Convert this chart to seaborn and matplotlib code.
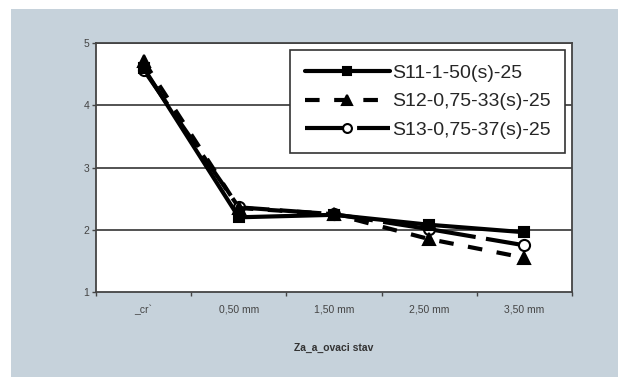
import matplotlib
matplotlib.use("Agg")
import matplotlib.pyplot as plt
from matplotlib.patches import Rectangle
import numpy as np
import pandas as pd
import seaborn as sns

# Category labels on the x axis and measured values per specimen
categories = ["_cr`", "0,50 mm", "1,50 mm", "2,50 mm", "3,50 mm"]
s11 = [4.60, 2.20, 2.24, 2.08, 1.96]
s12 = [4.71, 2.35, 2.25, 1.85, 1.55]
s13 = [4.57, 2.36, 2.25, 2.01, 1.75]
series_names = ["S11-1-50(s)-25", "S12-0,75-33(s)-25", "S13-0,75-37(s)-25"]
x_label = "Za_a_ovaci stav"
y_ticks = [1, 2, 3, 4, 5]

sns.set_style("white")
plt.rcParams["font.family"] = ["Liberation Sans", "DejaVu Sans"]

fig = plt.figure(figsize=(6.18, 3.77), dpi=100)
fig.patch.set_facecolor("white")
fig.patches.append(Rectangle((11 / 618, 0), 1, 1 - 9 / 377, transform=fig.transFigure,
                             facecolor="#c6d2db", edgecolor="none", zorder=-10))

ax = fig.add_axes([96 / 618, 1 - 292 / 377, (572 - 96) / 618, (292 - 43) / 377])
ax.set_facecolor("white")

pos = np.arange(len(categories))
df = pd.DataFrame({"pos": pos, "s11": s11, "s12": s12, "s13": s13})

styles = [
    dict(col="s13", marker="o", ms=8, mfc="white", ls=(0, (10, 2.5))),
    dict(col="s12", marker="^", ms=9, mfc="black", ls=(0, (3.5, 3.5))),
    dict(col="s11", marker="s", ms=7, mfc="black", ls="-"),
]
name_of = dict(zip(["s11", "s12", "s13"], series_names))
for st in styles:
    sns.lineplot(data=df, x="pos", y=st["col"], ax=ax, color="black", lw=3,
                 linestyle=st["ls"], marker=st["marker"], markersize=st["ms"],
                 markerfacecolor=st["mfc"], markeredgecolor="black",
                 markeredgewidth=1.5, label=name_of[st["col"]], zorder=3)

ax.set_xlim(-0.5, len(categories) - 0.5)
ax.set_ylim(1, 5)
ax.set_yticks(y_ticks)
ax.set_yticklabels([str(v) for v in y_ticks])
ax.set_xticks(pos)
ax.set_xticklabels(categories)
ax.set_xticks(np.arange(-0.5, len(categories), 1.0), minor=True)
ax.tick_params(axis="x", which="major", length=0, pad=9, labelsize=7.5, labelcolor="#444444")
ax.tick_params(axis="x", which="minor", length=3, width=1, color="#444444", direction="out", bottom=True)
ax.tick_params(axis="y", length=3, width=1, color="#444444", pad=2, labelsize=7.5,
               labelcolor="#444444", direction="out", left=True)

for v in y_ticks[1:]:
    ax.axhline(v, color="#444444", lw=1.3, zorder=1)
for side in ["left", "bottom", "right", "top"]:
    ax.spines[side].set_color("#444444")
    ax.spines[side].set_linewidth(1.3)

ax.set_xlabel(x_label, fontsize=7.5, fontweight="bold", color="#333333", labelpad=20)
ax.set_ylabel("")

handles, labels = ax.get_legend_handles_labels()
order = [labels.index(n) for n in series_names]
leg = ax.legend([handles[i] for i in order], [labels[i] for i in order],
                loc="upper left", bbox_to_anchor=((290 - 96) / 476, 1 - 7 / 249),
                frameon=True, fancybox=False, shadow=False, fontsize=14,
                handlelength=4.4, handletextpad=0.1, borderpad=0.75,
                labelspacing=0.55, borderaxespad=0, numpoints=1, markerscale=0.8)
leg.get_frame().set_edgecolor("#333333")
leg.get_frame().set_linewidth(1.2)
leg.get_frame().set_facecolor("white")
leg.get_frame().set_alpha(1)

fig.savefig("out.png", dpi=100)
